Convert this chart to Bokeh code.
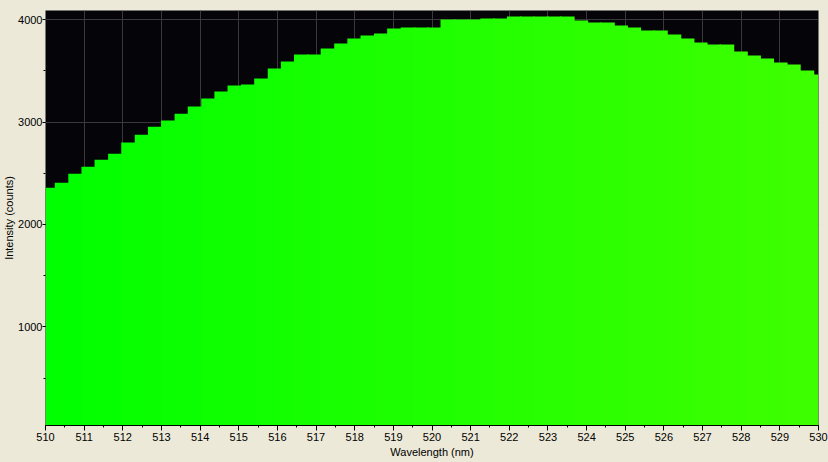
from bokeh.plotting import figure
from bokeh.models import Range1d, ColumnDataSource, SingleIntervalTicker
from bokeh.embed import file_html
from bokeh.resources import INLINE

# Wavelength samples (nm)
wavelength = [
    510.09, 510.43, 510.78, 511.12, 511.46, 511.81, 512.15, 512.50, 512.84, 513.18,
    513.53, 513.87, 514.22, 514.56, 514.90, 515.25, 515.59, 515.94, 516.28, 516.62,
    516.97, 517.31, 517.66, 518.00, 518.34, 518.69, 519.03, 519.38, 519.72, 520.06,
    520.41, 520.75, 521.10, 521.44, 521.78, 522.13, 522.47, 522.82, 523.16, 523.50,
    523.85, 524.19, 524.54, 524.88, 525.22, 525.57, 525.91, 526.26, 526.60, 526.94,
    527.29, 527.63, 527.98, 528.32, 528.66, 529.01, 529.35, 529.70, 530.04,
]

# Intensity (counts)
intensity = [
    2360, 2409, 2497, 2565, 2633, 2692, 2800, 2878, 2956, 3015,
    3083, 3152, 3230, 3299, 3357, 3367, 3426, 3524, 3592, 3661,
    3661, 3719, 3768, 3817, 3846, 3866, 3915, 3925, 3925, 3925,
    4003, 4003, 4003, 4013, 4013, 4032, 4032, 4032, 4032, 4032,
    3993, 3973, 3973, 3944, 3925, 3895, 3895, 3856, 3817, 3778,
    3758, 3758, 3690, 3651, 3622, 3583, 3563, 3504, 3465,
]

x_start, x_end = 510, 530
y_start, y_end = 36, 4091

BG = "#ECE9D8"
FONT = "Liberation Sans"


def wl_color(w):
    r = int(round(max(0.0, min(255.0, 3.1 * (w - 510.0)))))
    return "#{:02x}ff00".format(r)


colors = [wl_color(w) for w in wavelength]
source = ColumnDataSource(dict(x=wavelength, top=intensity, color=colors))

p = figure(
    width=828, height=462,
    x_range=Range1d(x_start, x_end), y_range=Range1d(y_start, y_end),
    output_backend="svg", toolbar_location=None,
    min_border_left=45, min_border_right=10, min_border_top=10, min_border_bottom=37,
    background_fill_color="#050409", border_fill_color=BG,
    outline_line_color=None,
)

# overlapping bars (by > 1 px) so no dark seams appear between neighbouring steps
p.vbar(x="x", top="top", bottom=0, width=0.38, source=source,
       fill_color="color", line_color=None)

p.xaxis.ticker = SingleIntervalTicker(interval=1, num_minor_ticks=2)
p.yaxis.ticker = SingleIntervalTicker(interval=1000, num_minor_ticks=2)

p.xaxis.axis_label = "Wavelength (nm)"
p.yaxis.axis_label = "Intensity (counts)"

for ax in (p.xaxis[0], p.yaxis[0]):
    ax.axis_label_text_font = FONT
    ax.axis_label_text_font_size = "11px"
    ax.axis_label_text_font_style = "normal"
    ax.axis_label_text_color = "black"
    ax.major_label_text_font = FONT
    ax.major_label_text_font_size = "11px"
    ax.major_label_text_color = "black"
    ax.major_tick_in = 0
    ax.minor_tick_in = 0
    ax.major_tick_line_color = "black"
    ax.minor_tick_line_color = "black"

p.xaxis.axis_line_color = "black"
p.xaxis.major_tick_out = 5
p.xaxis.minor_tick_out = 2
p.xaxis.major_label_standoff = 2
p.xaxis.axis_label_standoff = 2

p.yaxis.axis_line_color = None
p.yaxis.major_tick_out = 3
p.yaxis.minor_tick_out = 2
p.yaxis.major_label_standoff = 0
p.yaxis.axis_label_standoff = 0

p.xgrid.grid_line_color = "#3a383c"
p.ygrid.grid_line_color = "#3a383c"

html = file_html(p, INLINE)
html = html.replace("</head>", "<style>html,body{margin:0;padding:0;background:%s;}</style></head>" % BG, 1)
open("out.html", "w").write(html)
